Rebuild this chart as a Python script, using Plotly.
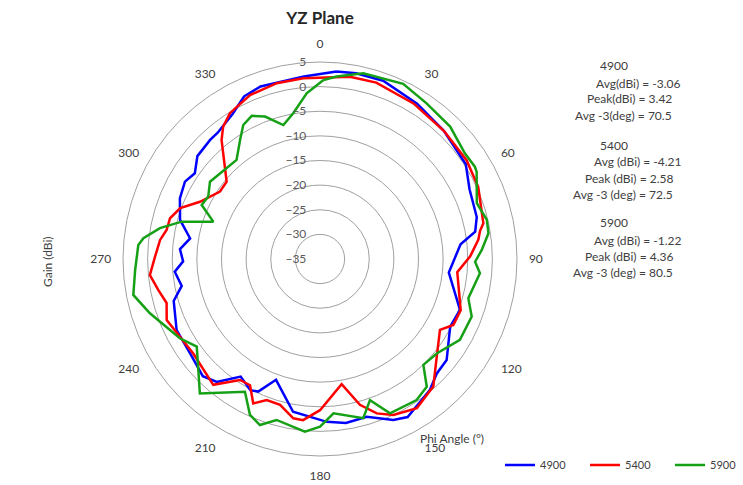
import plotly.graph_objects as go

# ---- data (angle in degrees, gain in dBi) ----
theta_4900 = [5, 11, 19.5, 32, 44, 57, 65, 75, 80, 84, 96, 110, 117.5, 128.6, 134.4, 140, 151, 155.5,
              163.5, 171, 177.6, 190, 200, 205, 208, 214, 220, 225, 234, 243.6, 254, 259, 265, 269,
              274, 279, 285.6, 293.4, 299.8, 304.4, 310, 317.3, 321, 329, 335, 341, 355]
gain_4900 = [3.2, 3.4, 3.4, 2.2, 1.2, 0.3, -1.5, -2.05, -3.0, -6.3, -8.7, -4.75, -5.2, -2.1, -1.8, -0.3, 1.7, 0.9,
             -1.6, -1.3, -1.9, -3.5, -8.9, -5.3, -4.85, -6.2, -2.4, -1.35, -2.4, -2.5, -4.1, -6.4, -5.4, -7.2,
             -6.5, -8.3, -5.5, -4.0, -3.4, -4.2, -2.5, -2.1, -2.0, -0.6, 1.45, 2.05, 2.2]

theta_5400 = [9.3, 17.7, 31, 44, 56, 65.5, 77.7, 80, 83, 89, 95.5, 110, 116.3, 120.6, 131, 138.4, 147, 154.8,
              159.8, 164.7, 170.2, 180, 186, 189.5, 195.3, 200.7, 204.8, 209, 213.5, 220.3, 233.3, 248.3,
              254, 259, 264.6, 270.8, 276.8, 280.7, 285.2, 290, 295.5, 304, 309.6, 320.4, 323.8, 328.3,
              336.9, 346.2, 354.7]
gain_5400 = [2.5, 2.6, 1.85, 1.2, 0.9, 0.3, -1.05, -2.0, -2.6, -4.5, -7.0, -4.6, -4.8, -6.7, -3.7, -0.35, 1.1, 0.0,
             -1.6, -4.3, -9.2, -4.3, -2.1, -2.2, -4.3, -4.4, -2.7, -5.7, -5.55, -1.5, -2.9, -1.5,
             -2.6, -1.6, -0.3, -1.5, -2.3, -3.3, -3.45, -4.8, -8.0, -10.5, -10.4, -3.65, -1.7, -0.2,
             1.2, 1.75, 1.85]

theta_5900 = [1.1, 5.2, 13.1, 25.4, 34.4, 44.5, 53.9, 59.2, 60.9, 70.4, 76.8, 81.3, 86.8, 91, 95.1, 104.8,
              110.8, 120, 129, 135.7, 140.1, 145.6, 155.6, 160.5, 164.8, 175, 180, 185, 195.1, 199.9,
              204.2, 209.5, 221.8, 227.6, 234.6, 240.5, 252.3, 259.1, 266.6, 274.4, 276.7, 280.9, 285.1,
              289.3, 294.5, 299.2, 305.1, 319.9, 326.1, 330.2, 334.5, 338.9, 344.7, 349.6, 355.4]
gain_5900 = [1.35, 2.2, 3.7, 4.36, 3.3, 2.7, 1.4, 1.6, 1.4, -1.2, -0.2, -0.4, -2.1, -3.5, -2.4, -3.85,
             -2.05, -2.2, -4.5, -4.95, -1.2, -0.3, -0.6, -4.6, -1.5, -3.55, -0.95, 0.2, -1.15, 0.85,
             -0.3, -4.05, 1.6, -1.55, -4.3, -2.3, 1.25, 3.6, 2.6, 2.0, 1.1, -1.9, -5.9,
             -12.05, -8.6, -9.0, -7.7, -8.7, -5.9, -3.65, -2.8, -4.0, -6.8, -4.9, -1.25]

series_names = ["4900", "5400", "5900"]
series_colors = ["#0000ff", "#ff0000", "#16a016"]
series_theta = [theta_4900, theta_5400, theta_5900]
series_gain = [gain_4900, gain_5400, gain_5900]

avg_dbi = ["-3.06", "-4.21", "-1.22"]
peak_dbi = ["3.42", "2.58", "4.36"]
avg3_deg = ["70.5", "72.5", "80.5"]

angle_ticks = list(range(0, 360, 30))
radial_ticks = [-35, -30, -25, -20, -15, -10, -5, 0, 5]

FONT = "Lato"
W, H = 743, 485
fig = go.Figure()
for name, col, th, g in zip(series_names, series_colors, series_theta, series_gain):
    fig.add_trace(go.Scatterpolar(
        theta=th + [th[0]], r=g + [g[0]], mode="lines", name=name,
        line=dict(color=col, width=2.5)))

cx, cy, R = 320, 259, 197
fig.update_layout(
    width=W, height=H,
    margin=dict(l=0, r=0, t=0, b=0, autoexpand=False),
    paper_bgcolor="white",
    font=dict(family=FONT, size=12, color="#404040"),
    title=dict(text="<b>YZ Plane</b>", x=320 / W, xanchor="center", y=1 - 18 / H, yanchor="middle",
               font=dict(family=FONT, size=17, color="#262626")),
    polar=dict(
        domain=dict(x=[(cx - R) / W, (cx + R) / W], y=[(H - cy - R) / H, (H - cy + R) / H]),
        bgcolor="white",
        angularaxis=dict(rotation=90, direction="clockwise", tickvals=angle_ticks,
                         ticktext=[str(a) for a in angle_ticks], showgrid=False,
                         showline=True, linecolor="#a0a0a0", linewidth=1,
                         ticks="outside", ticklen=9, tickcolor="rgba(0,0,0,0)",
                         tickfont=dict(size=12, color="#404040")),
        radialaxis=dict(range=[-35, 5], tickvals=radial_ticks, angle=90, side="counterclockwise",
                        showline=False, gridcolor="#a0a0a0", gridwidth=1,
                        ticks="outside", ticklen=9, tickcolor="rgba(0,0,0,0)", tickangle=90,
                        tickfont=dict(size=12, color="#595959")),
    ),
    legend=dict(orientation="h", x=500 / W, xanchor="left", y=1 - 465 / H, yanchor="middle",
                entrywidth=40, entrywidthmode="pixels", font=dict(size=11, color="#404040"),
                bgcolor="rgba(0,0,0,0)"),
)

ann = [
    dict(text="Gain (dBi)", x=47 / W, y=1 - 262 / H, textangle=-90),
    dict(text="Phi Angle (°)", x=452 / W, y=1 - 438 / H),
]
block_y = [66, 145, 223]
for i, name in enumerate(series_names):
    y0 = block_y[i]
    sp = "" if i == 0 else " "
    ann.append(dict(text=name, x=614 / W, y=1 - y0 / H))
    ann.append(dict(text=f"Avg{sp}(dBi) = {avg_dbi[i]}", x=638 / W, y=1 - (y0 + 17) / H))
    ann.append(dict(text=f"Peak{sp}(dBi) = {peak_dbi[i]}", x=629 / W, y=1 - (y0 + 33) / H))
    ann.append(dict(text=f"Avg -3{sp}(deg) = {avg3_deg[i]}", x=623 / W, y=1 - (y0 + 49) / H))
for a in ann:
    a.update(xref="paper", yref="paper", showarrow=False, xanchor="center", yanchor="middle",
             font=dict(family=FONT, size=12, color="#404040"))
fig.update_layout(annotations=ann)

fig.write_html("out.html", config={"displayModeBar": False},
               post_script="document.body.style.margin='0px';document.body.style.padding='0px';")
